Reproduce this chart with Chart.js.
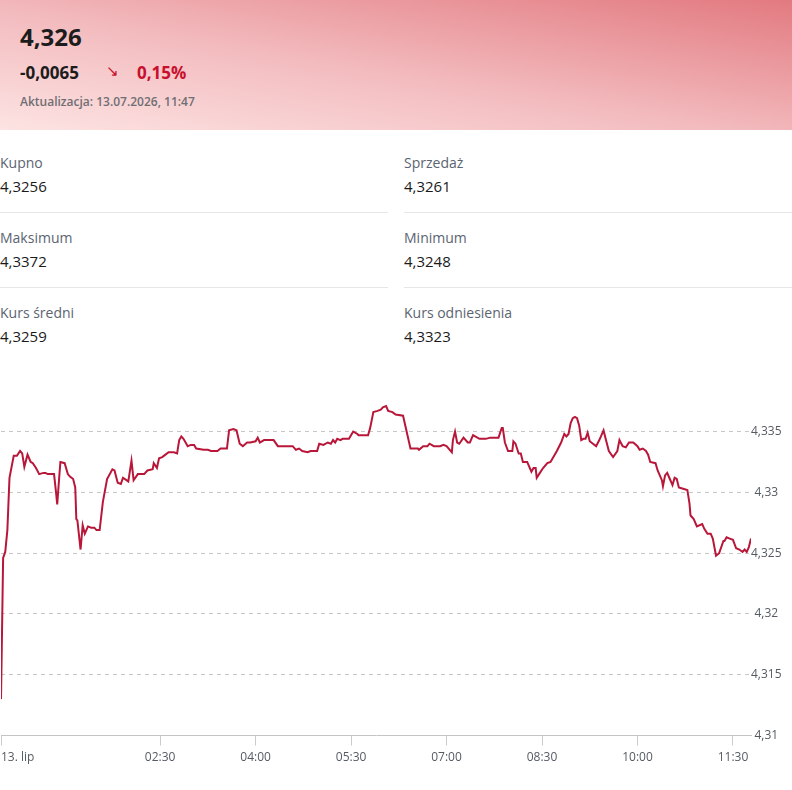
<!DOCTYPE html>
<html lang="pl">
<head>
<meta charset="utf-8">
<script src="https://cdn.jsdelivr.net/npm/chart.js@4/dist/chart.umd.min.js"></script>
<style>
    html, body { margin: 0; padding: 0; background: #fff; }
    body { width: 792px; height: 790px; position: relative; overflow: hidden; font-family: "Open Sans", "Noto Sans", sans-serif; }
    .top { position: absolute; left: 0; top: 0; width: 792px; height: 130px;
        background: linear-gradient(to top right, #fde3e3 0%, #f3bcbf 45%, #e27a80 100%); }
    .abs { position: absolute; white-space: nowrap; }
    .price { left: 20px; top: 20px; font-size: 24px; font-weight: 700; color: #1c1c1c; }
    .chg { left: 20px; top: 61px; font-size: 17px; font-weight: 700; color: #1c1c1c; }
    .arrow { left: 106px; top: 60px; font-size: 15px; color: #c8102e; }
    .pct { left: 137px; top: 61px; font-size: 17px; font-weight: 700; color: #c8102e; }
    .upd { left: 20px; top: 93px; font-size: 12px; font-weight: 600; color: #6f6f73; }
    .lbl { font-size: 14px; color: #5b6470; }
    .val { font-size: 15px; color: #1a1a1a; }
    .line { position: absolute; height: 1px; background: #e6e6e6; }
    #box { position: absolute; left: -4px; top: 383px; width: 796px; height: 387px; }
</style>
</head>
<body>
<div class="top">
    <div class="abs price">4,326</div>
    <div class="abs chg">-0,0065</div>
    <div class="abs arrow">&#8600;</div>
    <div class="abs pct">0,15%</div>
    <div class="abs upd">Aktualizacja: 13.07.2026, 11:47</div>
</div>
<div id="stats"></div>
<div id="box"><canvas id="kurs"></canvas></div>
<script>
// statystyki
var statLabels = ['Kupno', 'Sprzedaż', 'Maksimum', 'Minimum', 'Kurs średni', 'Kurs odniesienia'];
var statValues = ['4,3256', '4,3261', '4,3372', '4,3248', '4,3259', '4,3323'];

// notowania (minuty od północy, kurs)
var minutes = [0, 2, 4, 6, 8, 12, 15, 18, 20, 22, 25, 28, 30, 33, 36, 40, 42, 44, 46, 50,
    52, 53, 55, 56, 60, 63, 65, 68, 70, 71, 72, 75, 77, 79, 82, 85, 88, 90, 93, 96,
    100, 105, 107, 110, 113, 115, 120, 123, 125, 129, 135, 138, 143, 144, 147, 149, 152, 155, 158, 163,
    166, 168, 170, 172, 176, 179, 182, 184, 191, 195, 198, 204, 207, 213, 215, 219, 222, 225, 228, 232,
    235, 240, 242, 244, 248, 257, 261, 275, 278, 281, 284, 289, 292, 298, 300, 304, 308, 311, 313, 315,
    317, 320, 322, 328, 332, 336, 337, 346, 348, 351, 355, 358, 360, 363, 365, 369, 372, 379, 386, 393,
    394, 398, 402, 404, 408, 414, 417, 420, 423, 425, 426, 428, 430, 432, 436, 440, 442, 445, 447, 451,
    457, 461, 469, 472, 473, 475, 478, 482, 483, 485, 488, 490, 492, 496, 500, 502, 504, 505, 508, 511,
    515, 518, 524, 528, 531, 533, 535, 537, 539, 541, 543, 545, 547, 549, 551, 553, 555, 558, 561, 564,
    568, 570, 573, 577, 581, 583, 586, 589, 592, 596, 600, 602, 605, 608, 610, 612, 617, 619, 623, 624,
    626, 628, 630, 633, 635, 637, 639, 643, 647, 649, 650, 653, 656, 661, 663, 666, 669, 671, 674, 677,
    681, 682, 684, 687, 690, 693, 696, 699, 701, 703, 705, 707];
var rates = [4.3130, 4.3246, 4.3251, 4.3269, 4.3312, 4.3330, 4.3330, 4.3334, 4.3332, 4.3321, 4.3331, 4.3325, 4.3324, 4.3320, 4.3315, 4.3316, 4.3316, 4.3315, 4.3315, 4.3315,
    4.3299, 4.3290, 4.3314, 4.3325, 4.3324, 4.3315, 4.3313, 4.3311, 4.3304, 4.3278, 4.3277, 4.3253, 4.3273, 4.3266, 4.3272, 4.3271, 4.3271, 4.3269, 4.3269, 4.3292,
    4.3311, 4.3319, 4.3318, 4.3308, 4.3307, 4.3312, 4.3309, 4.3326, 4.3310, 4.3315, 4.3315, 4.3318, 4.3319, 4.3324, 4.3320, 4.3328, 4.3329, 4.3331, 4.3333, 4.3333,
    4.3332, 4.3343, 4.3346, 4.3344, 4.3338, 4.3339, 4.3339, 4.3336, 4.3335, 4.3335, 4.3334, 4.3334, 4.3336, 4.3336, 4.3351, 4.3352, 4.3351, 4.3340, 4.3338, 4.3341,
    4.3341, 4.3342, 4.3345, 4.3341, 4.3343, 4.3343, 4.3338, 4.3338, 4.3335, 4.3336, 4.3334, 4.3333, 4.3334, 4.3334, 4.3340, 4.3339, 4.3341, 4.3340, 4.3343, 4.3341,
    4.3344, 4.3343, 4.3344, 4.3344, 4.3350, 4.3348, 4.3347, 4.3347, 4.3353, 4.3366, 4.3367, 4.3368, 4.3370, 4.3371, 4.3367, 4.3366, 4.3364, 4.3363, 4.3336, 4.3336,
    4.3335, 4.3338, 4.3338, 4.3340, 4.3338, 4.3338, 4.3339, 4.3338, 4.3335, 4.3333, 4.3343, 4.3350, 4.3341, 4.3340, 4.3345, 4.3341, 4.3341, 4.3347, 4.3346, 4.3344,
    4.3344, 4.3345, 4.3345, 4.3353, 4.3353, 4.3341, 4.3334, 4.3334, 4.3342, 4.3340, 4.3332, 4.3332, 4.3325, 4.3325, 4.3317, 4.3320, 4.3320, 4.3312, 4.3316, 4.3320,
    4.3324, 4.3325, 4.3334, 4.3341, 4.3348, 4.3346, 4.3348, 4.3357, 4.3361, 4.3362, 4.3361, 4.3355, 4.3343, 4.3344, 4.3344, 4.3349, 4.3342, 4.3340, 4.3338, 4.3343,
    4.3351, 4.3344, 4.3334, 4.3329, 4.3334, 4.3343, 4.3338, 4.3337, 4.3341, 4.3341, 4.3338, 4.3335, 4.3336, 4.3334, 4.3331, 4.3325, 4.3324, 4.3318, 4.3310, 4.3305,
    4.3314, 4.3316, 4.3312, 4.3306, 4.3312, 4.3311, 4.3304, 4.3303, 4.3302, 4.3291, 4.3281, 4.3278, 4.3272, 4.3274, 4.3270, 4.3266, 4.3266, 4.3262, 4.3248, 4.3250,
    4.3260, 4.3260, 4.3263, 4.3262, 4.3261, 4.3254, 4.3253, 4.3251, 4.3253, 4.3251, 4.3255, 4.3262];

// oś X
var tickMinutes = [0, 150, 240, 330, 420, 510, 600, 690];
var tickLabels = ['13. lip', '02:30', '04:00', '05:30', '07:00', '08:30', '10:00', '11:30'];
var endMinute = 707;

// oś Y
var yMin = 4.31;
var yMax = 4.3384;
var yStep = 0.005;

// rysuj statystyki
var statsHtml = '';
for (var i in statLabels) {
    var col = i % 2;
    var row = Math.floor(i / 2);
    var left = col == 0 ? 0 : 404;
    statsHtml += "<div class='abs lbl' style='left:" + left + "px;top:" + (153 + row * 75) + "px'>" + statLabels[i] + "</div>";
    statsHtml += "<div class='abs val' style='left:" + left + "px;top:" + (176 + row * 75) + "px'>" + statValues[i] + "</div>";
    if (row < 2) {
        statsHtml += "<div class='line' style='left:" + left + "px;top:" + (212 + row * 75) + "px;width:388px'></div>";
    }
}
document.getElementById('stats').innerHTML = statsHtml;

var points = minutes.map(function (m, i) { return { x: m, y: rates[i] }; });

var ctx = document.getElementById('kurs').getContext('2d');
new Chart(ctx, {
    type: 'line',
    data: {
        datasets: [{
            data: points,
            borderColor: '#b8173a',
            borderWidth: 2,
            pointRadius: 0,
            tension: 0,
            fill: false
        }]
    },
    options: {
        responsive: true,
        maintainAspectRatio: false,
        animation: false,
        layout: { padding: 0 },
        plugins: {
            legend: { display: false },
            tooltip: { enabled: false }
        },
        scales: {
            x: {
                type: 'linear',
                min: 0,
                max: endMinute,
                afterBuildTicks: function (scale) {
                    scale.ticks = tickMinutes.map(function (v) { return { value: v }; }).concat([{ value: endMinute }]);
                },
                ticks: {
                    autoSkip: false,
                    maxRotation: 0,
                    align: 'inner',
                    padding: 5,
                    color: '#555b63',
                    font: { family: '"Open Sans", sans-serif', size: 12 },
                    callback: function (value) {
                        var k = tickMinutes.indexOf(value);
                        return k >= 0 ? tickLabels[k] : '';
                    }
                },
                grid: {
                    drawOnChartArea: false,
                    drawTicks: true,
                    tickLength: 10,
                    tickColor: function (c) { return c.tick && c.tick.value === endMinute ? 'rgba(0,0,0,0)' : '#cccccc'; }
                },
                border: { display: true, color: '#c4c4c4', width: 1 }
            },
            y: {
                position: 'right',
                min: yMin,
                max: yMax,
                afterFit: function (scale) { scale.width = 41; },
                ticks: {
                    stepSize: yStep,
                    includeBounds: false,
                    crossAlign: 'center',
                    padding: 0,
                    color: '#555b63',
                    font: { family: '"Open Sans", sans-serif', size: 12 },
                    callback: function (value) {
                        return String(Number(value.toFixed(3))).replace('.', ',');
                    }
                },
                grid: {
                    color: '#c8c8c8',
                    drawTicks: false
                },
                border: { display: false, dash: [4, 4] }
            }
        }
    }
});
</script>
</body>
</html>
